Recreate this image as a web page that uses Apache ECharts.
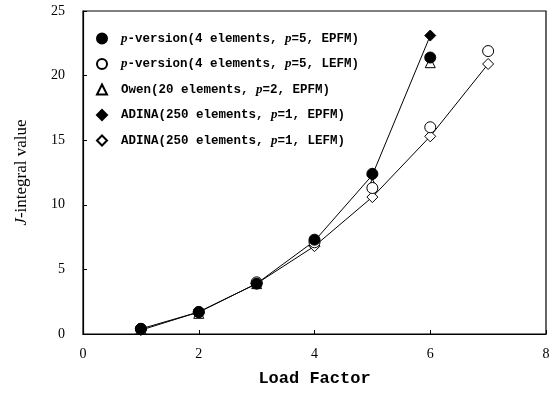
<!DOCTYPE html>
<html><head><meta charset="utf-8">
<script src="https://cdn.jsdelivr.net/npm/echarts@6/dist/echarts.min.js"></script>
<style>html,body{margin:0;padding:0;background:#fff}#c{width:557px;height:393px}</style>
</head><body><div id="c"></div>
<script>
const xTicks = [0, 2, 4, 6, 8];
const yTicks = [0, 5, 10, 15, 20, 25];
const pvEPFM = [[1,0.4],[2,1.7],[3,3.9],[4,7.3],[5,12.4],[6,21.4]];
const pvLEFM = [[1,0.4],[2,1.7],[3,4.0],[4,7.1],[5,11.3],[6,16.0],[7,21.9]];
const owenEPFM = [[1,0.4],[2,1.6],[3,3.9],[4,7.2],[5,11.6],[6,21.0]];
const adinaEPFM = [[1,0.4],[2,1.7],[3,3.9],[4,7.2],[5,12.3],[6,23.1]];
const adinaLEFM = [[1,0.3],[2,1.7],[3,3.9],[4,6.8],[5,10.6],[6,15.3],[7,20.9]];
const names = [
  'p-version(4 elements, p=5, EPFM)',
  'p-version(4 elements, p=5, LEFM)',
  'Owen(20 elements, p=2, EPFM)',
  'ADINA(250 elements, p=1, EPFM)',
  'ADINA(250 elements, p=1, LEFM)'
];
const filled = {color:'#000', borderColor:'#000', borderWidth:1, opacity:1};
const open = {color:'#fff', borderColor:'#000', borderWidth:1, opacity:1};
const chart = echarts.init(document.getElementById('c'));
const mono = '"Liberation Mono", "DejaVu Sans Mono", monospace';
const serif = '"Liberation Serif", "DejaVu Serif", serif';
chart.setOption({
  animation:false,
  grid:{left:83, right:11, top:11, bottom:59, show:true, borderColor:'#000', borderWidth:1.2},
  xAxis:{type:'value', min:0, max:8, interval:2,
    name:'Load Factor', nameLocation:'middle', nameGap:36,
    nameTextStyle:{fontFamily:mono, fontWeight:'bold', fontSize:17, color:'#000'},
    axisLine:{lineStyle:{color:'#000', width:1.2}},
    axisTick:{inside:true, length:4, lineStyle:{color:'#000'}},
    axisLabel:{fontFamily:serif, fontSize:14, color:'#000', margin:13},
    splitLine:{show:false}},
  yAxis:{type:'value', min:0, max:25, interval:5,
    name:'{i|J}-integral value', nameLocation:'middle', nameGap:53,
    nameTextStyle:{fontFamily:serif, fontSize:17, color:'#000',
      rich:{i:{fontFamily:serif, fontStyle:'italic', fontSize:17, color:'#000'}}},
    axisLine:{lineStyle:{color:'#000', width:1.2}},
    axisTick:{inside:true, length:4, lineStyle:{color:'#000'}},
    axisLabel:{fontFamily:serif, fontSize:14, color:'#000', margin:18},
    splitLine:{show:false}},
  legend:{orient:'vertical', left:91, top:27, itemGap:12.5, itemWidth:10, itemHeight:10,
    textStyle:{fontFamily:mono, fontWeight:'bold', fontSize:12.5, color:'#000', padding:[0,0,0,9],
      rich:{i:{fontFamily:serif, fontStyle:'italic', fontSize:13, color:'#000'}}},
    formatter: n => n.replace(/p(?=-version|=)/g, '{i|p}'),
    data:[
      {name:names[0], icon:'circle'},
      {name:names[1], icon:'circle'},
      {name:names[2], icon:'triangle'},
      {name:names[3], icon:'diamond'},
      {name:names[4], icon:'diamond'}
    ]},
  series:[
    {name:names[3], type:'line', data:adinaEPFM, symbol:'diamond', symbolSize:11,
      lineStyle:{color:'#000', width:1}, itemStyle:filled, z:2},
    {name:names[4], type:'line', data:adinaLEFM, symbol:'diamond', symbolSize:11,
      lineStyle:{color:'#000', width:1}, itemStyle:open, z:2},
    {name:names[2], type:'scatter', data:owenEPFM, symbol:'triangle', symbolSize:10,
      itemStyle:open, z:3},
    {name:names[1], type:'scatter', data:pvLEFM, symbol:'circle', symbolSize:11,
      itemStyle:open, z:4},
    {name:names[0], type:'scatter', data:pvEPFM, symbol:'circle', symbolSize:11,
      itemStyle:filled, z:5}
  ]
});
</script></body></html>
